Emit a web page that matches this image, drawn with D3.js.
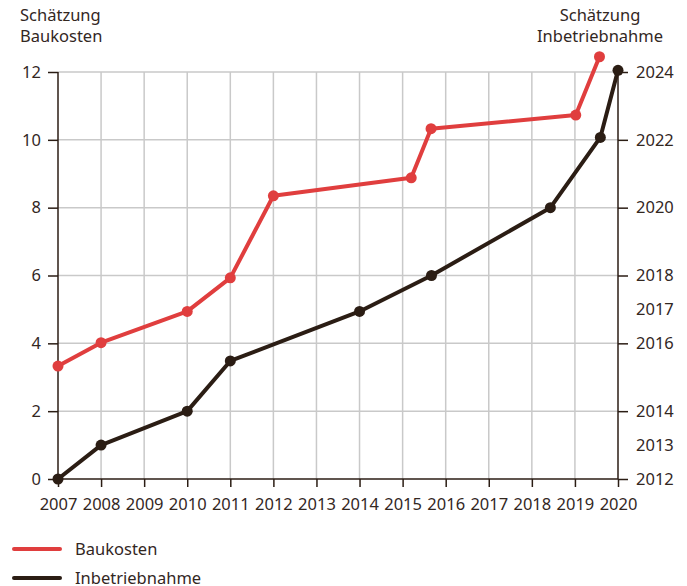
<!DOCTYPE html>
<html>
<head>
<meta charset="utf-8">
<script src="https://cdn.jsdelivr.net/npm/d3@7"></script>
<style>
  body { margin: 0; background: #fff; }
  text { font-family: "Noto Sans", "Open Sans", sans-serif; fill: #33271f; }
</style>
</head>
<body>
<div id="chart"></div>
<script>
// Schätzung Baukosten (left axis) and Schätzung Inbetriebnahme (right axis, year = 2012 + value)
const baukostenYears = [2007, 2008, 2010, 2011, 2012, 2015.2, 2015.66, 2019.02, 2019.57];
const baukostenValues = [3.33, 4.02, 4.94, 5.93, 8.35, 8.88, 10.33, 10.73, 12.45];

const inbetriebYears = [2007, 2008, 2010, 2011, 2014, 2015.67, 2018.43, 2019.59, 2020];
const inbetriebValues = [0, 1, 2, 3.48, 4.94, 6, 8, 10.07, 12.05];

const xTicks = d3.range(2007, 2021);
const leftTicks = [0, 2, 4, 6, 8, 10, 12];
const rightTicks = [2012, 2013, 2014, 2016, 2017, 2018, 2020, 2022, 2024];
const rightTickMarks = [2012, 2014, 2016, 2018, 2020, 2022, 2024];

const width = 687, height = 586;
const margin = { top: 72, right: 69, bottom: 107, left: 58 };

const red = '#e03e3e';
const dark = '#2b1d14';
const grid = '#c9c9c9';
const fontSize = '16.5px';

const svg = d3.select('#chart').append('svg')
    .attr('width', width)
    .attr('height', height);

const x = d3.scaleLinear().domain([2007, 2020]).range([margin.left, width - margin.right]);
const y = d3.scaleLinear().domain([0, 12]).range([height - margin.bottom, margin.top]);
const yRight = d3.scaleLinear().domain([2012, 2024]).range([height - margin.bottom, margin.top]);

// grid
svg.append('g').selectAll('line')
    .data(leftTicks.filter(d => d > 0))
    .enter().append('line')
    .attr('x1', x(2007)).attr('x2', x(2020))
    .attr('y1', d => y(d)).attr('y2', d => y(d))
    .attr('stroke', grid).attr('stroke-width', 1.5);

svg.append('g').selectAll('line')
    .data(xTicks.filter(d => d > 2007 && d < 2020))
    .enter().append('line')
    .attr('x1', d => x(d)).attr('x2', d => x(d))
    .attr('y1', y(0)).attr('y2', y(12))
    .attr('stroke', grid).attr('stroke-width', 1.5);

// axes
const xAxis = svg.append('g')
    .attr('transform', `translate(0, ${y(0)})`)
    .call(d3.axisBottom(x).tickValues(xTicks).tickFormat(d3.format('d')).tickSize(8).tickPadding(11));

const leftAxis = svg.append('g')
    .attr('transform', `translate(${x(2007)}, 0)`)
    .call(d3.axisLeft(y).tickValues(leftTicks).tickSize(10).tickPadding(7));

const rightAxis = svg.append('g')
    .attr('transform', `translate(${x(2020)}, 0)`)
    .call(d3.axisRight(yRight).tickValues(rightTicks).tickFormat(d3.format('d')).tickSize(10).tickPadding(8));

rightAxis.selectAll('.tick line')
    .attr('x2', d => rightTickMarks.includes(d) ? 10 : 0);

[xAxis, leftAxis, rightAxis].forEach(a => {
    a.select('.domain').attr('stroke', dark).attr('stroke-width', 1.5);
    a.selectAll('.tick line').attr('stroke', dark).attr('stroke-width', 1.5);
    a.selectAll('.tick text')
        .style('font-family', '"Noto Sans", "Open Sans", sans-serif')
        .style('font-size', fontSize)
        .attr('fill', '#33271f');
});
leftAxis.select('.domain').attr('d', `M0,${y(0)}V${y(12)}`);
rightAxis.select('.domain').attr('d', `M0,${y(0)}V${y(12)}`);
xAxis.select('.domain').attr('d', `M${x(2007)},0H${x(2020)}`);

// lines
const line = d3.line().x(d => x(d[0])).y(d => y(d[1]));

const series = [
    { name: 'Baukosten', color: red, pts: d3.zip(baukostenYears, baukostenValues) },
    { name: 'Inbetriebnahme', color: dark, pts: d3.zip(inbetriebYears, inbetriebValues) }
];

series.forEach(s => {
    svg.append('path')
        .datum(s.pts)
        .attr('d', line)
        .attr('fill', 'none')
        .attr('stroke', s.color)
        .attr('stroke-width', 4)
        .attr('stroke-linejoin', 'round');

    svg.append('g').selectAll('circle')
        .data(s.pts)
        .enter().append('circle')
        .attr('cx', d => x(d[0]))
        .attr('cy', d => y(d[1]))
        .attr('r', 5.5)
        .attr('fill', s.color);
});

// titles
const tl = svg.append('text').attr('x', 20).attr('y', 21).style('font-size', fontSize);
tl.append('tspan').attr('x', 20).text('Schätzung');
tl.append('tspan').attr('x', 20).attr('dy', 21).text('Baukosten');

const tr = svg.append('text').attr('y', 21).attr('text-anchor', 'middle').style('font-size', fontSize);
tr.append('tspan').attr('x', 600).text('Schätzung');
tr.append('tspan').attr('x', 600).attr('dy', 21).text('Inbetriebnahme');

// legend
const legend = svg.append('g').selectAll('g')
    .data(series)
    .enter().append('g')
    .attr('transform', (d, i) => `translate(14, ${549 + i * 29})`);

legend.append('line')
    .attr('x1', 0).attr('x2', 46)
    .attr('stroke', d => d.color)
    .attr('stroke-width', 4)
    .attr('stroke-linecap', 'round');

legend.append('text')
    .attr('x', 61).attr('y', 6)
    .style('font-size', fontSize)
    .text(d => d.name);
</script>
</body>
</html>
